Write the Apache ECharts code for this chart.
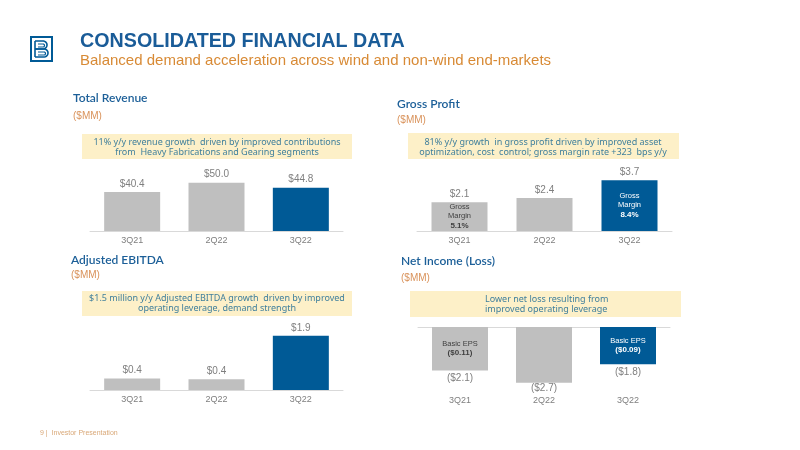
<!DOCTYPE html>
<html><head><meta charset="utf-8">
<script src="https://cdn.jsdelivr.net/npm/echarts@6/dist/echarts.min.js"></script>
<style>html,body{margin:0;padding:0;background:#fff}#c{width:800px;height:450px}</style>
</head><body><div id="c"></div>
<script>
var categories = ['3Q21', '2Q22', '3Q22'];
var revenue = [40.4, 50.0, 44.8];
var grossProfit = [2.1, 2.4, 3.7];
var grossMargin = ['5.1%', '', '8.4%'];
var ebitda = [0.4, 0.38, 1.9];
var netIncome = [-2.1, -2.7, -1.8];
var basicEps = ['($0.11)', '', '($0.09)'];

var BLUE = '#005a96', GREY = '#bfbfbf', TITLE = '#1c5f98', ORANGE = '#d9925a', NOTE = '#3f7f9c', BOX = '#fdf0c8';
var LBL = '#7f7f7f';

function colored(vals){
  return vals.map(function(v,i){ return {value:v, itemStyle:{color: i===2?BLUE:GREY}}; });
}
function grid(l,t,w,h){ return {left:l, top:t, width:w, height:h}; }
function xAx(gi, show, margin){
  return {type:'category', gridIndex:gi, data:categories, axisTick:{show:false},
    axisLine:{show:show, lineStyle:{color:'#d9d9d9', width:1}},
    axisLabel:{color:LBL, fontSize:9, fontFamily:'Liberation Sans', margin:margin||5}};
}
function yAx(gi,min,max){ return {type:'value', gridIndex:gi, min:min, max:max, show:false}; }
function money(v){ return '$'+v.toFixed(1); }

var option = {
  animation:false,
  textStyle:{fontFamily:'Liberation Sans'},
  grid:[grid(90,173,253,58), grid(417,176,255,55), grid(90,333,253,57), grid(418,327,252,62)],
  xAxis:[xAx(0,true), xAx(1,true), xAx(2,true), xAx(3,false,7),
    {type:'category', gridIndex:3, data:categories, position:'top', axisTick:{show:false}, axisLabel:{show:false},
     axisLine:{show:true, onZero:false, lineStyle:{color:'#d9d9d9'}}}],
  yAxis:[yAx(0,0,60), yAx(1,0,4), yAx(2,0,2), yAx(3,-3,0)],
  series:[
    {type:'bar', xAxisIndex:0, yAxisIndex:0, barWidth:56, data:colored(revenue),
      label:{show:true, position:'top', distance:3, color:LBL, fontSize:10, formatter:function(p){return money(p.value);}}},
    {type:'bar', xAxisIndex:1, yAxisIndex:1, barWidth:56, data:colored(grossProfit),
      label:{show:true, position:'top', distance:3, color:LBL, fontSize:10, formatter:function(p){return money(p.value);}}},
    {type:'bar', xAxisIndex:1, yAxisIndex:1, barWidth:56, barGap:'-100%', z:3,
      data:grossProfit.map(function(v,i){return {value:v, itemStyle:{color:'rgba(0,0,0,0)'},
        label:{color: i===2?'#ffffff':'#404040'}};}),
      label:{show:true, position:'inside', fontSize:7.5, lineHeight:9,
        formatter:function(p){ var g=grossMargin[p.dataIndex]; return g?('Gross\nMargin\n{b|'+g+'}'):''; },
        rich:{b:{fontSize:8, fontWeight:'bold', lineHeight:10}}}},
    {type:'bar', xAxisIndex:2, yAxisIndex:2, barWidth:56, data:colored(ebitda),
      label:{show:true, position:'top', distance:3, color:LBL, fontSize:10, formatter:function(p){return money(p.value);}}},
    {type:'bar', xAxisIndex:3, yAxisIndex:3, barWidth:56,
      data:netIncome.map(function(v,i){return {value:v, itemStyle:{color: i===2?BLUE:GREY}, label:{distance: i===1?0:3}};}),
      label:{show:true, position:'bottom', color:LBL, fontSize:10, formatter:function(p){return '($'+Math.abs(p.value).toFixed(1)+')';}}},
    {type:'bar', xAxisIndex:3, yAxisIndex:3, barWidth:56, barGap:'-100%', z:3,
      data:netIncome.map(function(v,i){return {value:v, itemStyle:{color:'rgba(0,0,0,0)'},
        label:{color: i===2?'#ffffff':'#404040'}};}),
      label:{show:true, position:'inside', fontSize:7.5, lineHeight:9,
        formatter:function(p){ var e=basicEps[p.dataIndex]; return e?('Basic EPS\n{b|'+e+'}'):''; },
        rich:{b:{fontSize:8, fontWeight:'bold', lineHeight:10}}}}
  ],
  graphic:[]
};

var G = option.graphic;
function txt(x,y,s,font,fill,align){
  G.push({type:'text', x:x, y:y, silent:true, style:{text:s, font:font, fill:fill, align:align||'left', verticalAlign:'middle'}});
}
function box(x,y,w,h){ G.push({type:'rect', silent:true, z:-1, shape:{x:x,y:y,width:w,height:h}, style:{fill:BOX}}); }
function pl(pts,w){ G.push({type:'polyline', silent:true, shape:{points:pts}, style:{fill:null, stroke:BLUE, lineWidth:w||1.5}}); }
function lobe(x0, xr, yt, yb){
  var pts=[[x0,yt],[xr,yt]]; var r=(yb-yt)/2, cy=(yt+yb)/2;
  for(var a=-80;a<=90;a+=15){ var t=a*Math.PI/180; pts.push([xr+r*Math.cos(t), cy+r*Math.sin(t)]); }
  pts.push([x0,yb]); return pts;
}

// logo
G.push({type:'rect', silent:true, shape:{x:31,y:37,width:21,height:24}, style:{fill:'none', stroke:BLUE, lineWidth:2}});
pl(lobe(35,43,41,49),1.6); pl(lobe(35,44,49,57),1.6); pl([[35,41],[35,57]],1.6);
pl(lobe(38,43,44,47),1.2); pl(lobe(38,44,52,55),1.2);

// header
txt(80, 42, 'CONSOLIDATED FINANCIAL DATA', 'bold 19.7px "Liberation Sans"', '#1a5c98');
txt(80, 61, 'Balanced demand acceleration across wind and non-wind end-markets', '15px "Liberation Sans"', '#d88a35');

// panel titles
var titleFont = '600 12px Lato';
var mmFont = '10px "Liberation Sans"';
txt(73, 98, 'Total Revenue', titleFont, TITLE); txt(73, 116, '($MM)', mmFont, ORANGE);
txt(397, 104, 'Gross Profit', titleFont, TITLE); txt(397, 120, '($MM)', mmFont, ORANGE);
txt(71, 260, 'Adjusted EBITDA', titleFont, TITLE); txt(71, 275, '($MM)', mmFont, ORANGE);
txt(401, 261, 'Net Income (Loss)', titleFont, TITLE); txt(401, 278, '($MM)', mmFont, ORANGE);

// callouts
var noteFont = '9px "Noto Sans"';
box(82,134,270,25); txt(217,142,'11% y/y revenue growth  driven by improved contributions',noteFont,NOTE,'center'); txt(217,152,'from  Heavy Fabrications and Gearing segments',noteFont,NOTE,'center');
box(408,133,271,26); txt(543,142,'81% y/y growth  in gross profit driven by improved asset',noteFont,NOTE,'center'); txt(543,152,'optimization, cost  control; gross margin rate +323  bps y/y',noteFont,NOTE,'center');
box(82,291,270,25); txt(217,298,'$1.5 million y/y Adjusted EBITDA growth  driven by improved',noteFont,NOTE,'center'); txt(217,308,'operating leverage, demand strength',noteFont,NOTE,'center');
box(410,291,271,26); txt(485,299,'Lower net loss resulting from',noteFont,NOTE); txt(485,309,'improved operating leverage',noteFont,NOTE);

// footer
txt(40, 433, '9 |  Investor Presentation', '7px "Liberation Sans"', '#d9a878');

var chart = echarts.init(document.getElementById('c'), null, {renderer:'canvas'});
chart.setOption(option);
</script></body></html>
